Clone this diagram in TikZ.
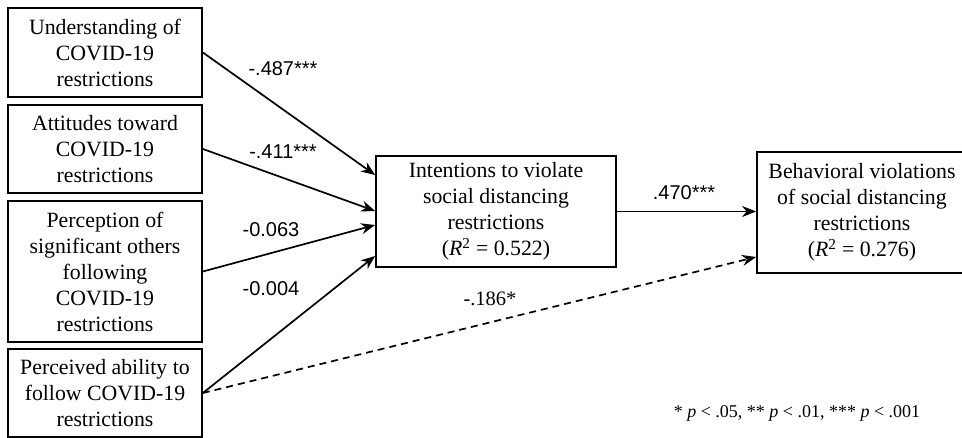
\documentclass[tikz,border=0pt]{standalone}
\usepackage{fontspec}
\setmainfont{Liberation Serif}
\newfontfamily\labfont{Liberation Sans}
\usetikzlibrary{arrows.meta,calc}
\tikzset{
  box/.style={draw, line width=1.8pt, inner sep=0pt, align=center,
    font=\fontsize{21.8}{26}\selectfont},
  conn/.style={line width=1.7pt, -{Stealth[length=14pt,width=11pt,inset=4.5pt]}},
  dashconn/.style={conn, dash pattern=on 7pt off 5pt},
  lab/.style={inner sep=0pt, font=\labfont\fontsize{20}{22}\selectfont},
  serlab/.style={inner sep=0pt, font=\fontsize{20.5}{22}\selectfont},
  note/.style={inner sep=0pt, font=\fontsize{18}{20}\selectfont}
}
\begin{document}
\begin{tikzpicture}[x=1pt,y=-1pt]
\path[use as bounding box] (0,0) rectangle (962,438);
\clip (0,0) rectangle (962,438);
\node[box, minimum width=194pt, minimum height=89pt] (u) at (105,52.5)
  {Understanding of\\COVID-19\\restrictions};
\node[box, minimum width=194pt, minimum height=88pt] (a) at (105,149)
  {Attitudes toward\\COVID-19\\restrictions};
\node[box, minimum width=194pt, minimum height=141pt] (p) at (105,271.5)
  {Perception of\\significant others\\following\\COVID-19\\restrictions};
\node[box, minimum width=194pt, minimum height=88pt] (f) at (105,393)
  {Perceived ability to\\follow COVID-19\\restrictions};
\node[box, minimum width=240pt, minimum height=111pt] (i) at (496,211.5)
  {Intentions to violate\\social distancing\\restrictions\\(\textit{R}\textsuperscript{2} = 0.522)};
\node[box, minimum width=210pt, minimum height=121pt] (b) at (862,212.5)
  {Behavioral violations\\of social distancing\\restrictions\\(\textit{R}\textsuperscript{2} = 0.276)};

\draw[conn] (u.east) -- ($(i.west)+(0,-36.5)$);
\draw[conn] (a.east) -- ($(i.west)+(0,-0.5)$);
\draw[conn] (p.east) -- ($(i.west)+(0,13.5)$);
\draw[conn] (f.east) -- ($(i.west)+(0,44.5)$);
\draw[dashconn] (f.east) -- ($(b.west)+(0,44.5)$);
\draw[conn] (i.east) -- (i.east -| b.west);

\node[lab] (l1) at (283,69) {-.487***};
\node[lab] (l2) at (283,152) {-.411***};
\node[lab] (l3) at (271,230) {-0.063};
\node[lab] (l4) at (271,289) {-0.004};
\node[serlab] (l5) at (490,299) {-.186*};
\node[lab] (l6) at (684,193) {.470***};
\node[note] (n) at (797,413) {* \textit{p} < .05, ** \textit{p} < .01, *** \textit{p} < .001};
\end{tikzpicture}
\end{document}
